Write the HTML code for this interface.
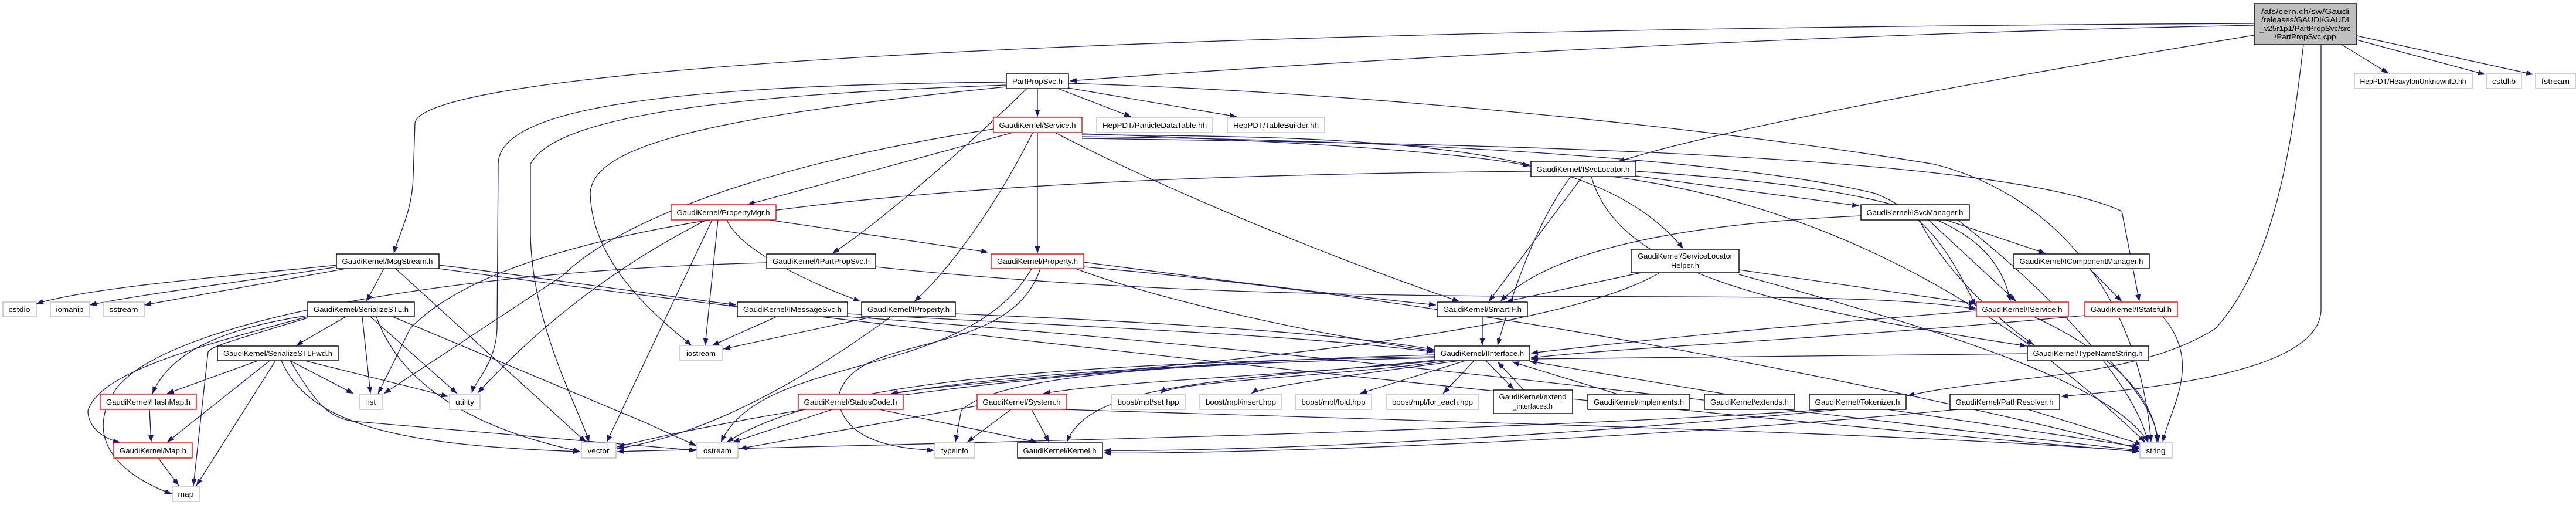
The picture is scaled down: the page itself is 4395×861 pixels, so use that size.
<!DOCTYPE html>
<html><head><meta charset="utf-8"><style>
html,body{margin:0;padding:0;background:#fff}
svg{display:block}
text{font-family:"Liberation Sans",sans-serif;font-size:13px;fill:#000}
.e{fill:none;stroke:#191970;stroke-width:1.3;marker-end:url(#a)}
.b{fill:#fff;stroke:#000;stroke-width:1.4}
.r{fill:#fff;stroke:#ff0000;stroke-width:1.4}
.g{fill:#fff;stroke:#bfbfbf;stroke-width:1.4}
</style></head><body>
<svg width="4395" height="861" viewBox="0 0 4395 861" xmlns="http://www.w3.org/2000/svg">
<defs><marker id="a" markerUnits="userSpaceOnUse" markerWidth="12" markerHeight="9" refX="12" refY="4.5" orient="auto"><path d="M0,0 L12,4.5 L0,9 z" fill="#191970"/></marker></defs>
<g>
<path class="e" d="M3846 60 C3300 150 2900 230 2760 276"/>
<path class="e" d="M3846 43 C3000 60 2200 110 1825 138"/>
<path class="e" d="M3846 40 C1800 50 720 120 708 210 L705 300 C704 360 680 400 672 432"/>
<path class="e" d="M3995 76 L4075 125"/>
<path class="e" d="M4021 68 L4240 127"/>
<path class="e" d="M4021 61 L4322 127"/>
<path class="e" d="M3930 76 C3910 250 3880 450 3780 560 C3640 650 3400 640 3254 675"/>
<path class="e" d="M3960 76 L3960 530 C3955 630 3700 660 3516 676"/>
<path class="e" d="M1770 151 L1770 199"/>
<path class="e" d="M1805 151 L1930 199"/>
<path class="e" d="M1823 150 L2110 199"/>
<path class="e" d="M1752 151 C1650 250 1500 380 1420 432"/>
<path class="e" d="M1717 140 C1100 145 850 190 850 280 L848 560 C846 620 810 650 805 670"/>
<path class="e" d="M1717 145 C1300 160 950 190 905 280 L905 400 C908 560 990 700 1005 754"/>
<path class="e" d="M1717 148 C1200 200 1010 250 1007 330 C1010 450 1120 540 1180 589"/>
<path class="e" d="M1823 142 C2400 160 3000 230 3300 280 C3500 330 3650 500 3670 754"/>
<path class="e" d="M1728 226 L1275 349"/>
<path class="e" d="M1770 226 L1770 432"/>
<path class="e" d="M1762 226 C1700 350 1620 460 1560 514"/>
<path class="e" d="M1846 228 C2200 240 2500 260 2610 283"/>
<path class="e" d="M1800 226 C2000 330 2300 450 2490 514"/>
<path class="e" d="M1846 230 C2400 232 2730 250 2872 424"/>
<path class="e" d="M1846 233 C2500 240 3000 280 3200 330 C3300 370 3340 460 3371 522"/>
<path class="e" d="M1846 236 C2500 245 3400 260 3620 360 L3650 514"/>
<path class="e" d="M1695 220 C1300 280 1050 380 960 470 L655 671"/>
<path class="e" d="M1312 375 L1686 430"/>
<path class="e" d="M1240 375 C1260 420 1350 470 1468 514"/>
<path class="e" d="M1215 375 L1035 754"/>
<path class="e" d="M1225 375 L1203 589"/>
<path class="e" d="M1205 375 C1000 480 880 600 815 670"/>
<path class="e" d="M1849 447 C2100 480 2300 505 2450 520"/>
<path class="e" d="M1835 458 C2000 520 2300 580 2446 598"/>
<path class="e" d="M1760 458 C1650 650 1300 600 1230 754"/>
<path class="e" d="M1775 458 C1720 620 1450 560 1430 680 C1440 760 1550 765 1594 768"/>
<path class="e" d="M1849 455 C2600 520 3400 700 3650 765"/>
<path class="e" d="M1494 455 C2300 540 3100 480 3371 527"/>
<path class="e" d="M575 452 C400 470 150 490 62 518"/>
<path class="e" d="M575 455 C420 480 250 500 153 520"/>
<path class="e" d="M590 458 L246 520"/>
<path class="e" d="M655 458 L625 514"/>
<path class="e" d="M675 458 L1000 754"/>
<path class="e" d="M749 452 C900 470 1100 500 1256 520"/>
<path class="e" d="M749 458 C1500 560 2800 700 3650 770"/>
<path class="e" d="M1308 448 C800 460 300 540 200 660 C130 760 230 820 293 842"/>
<path class="e" d="M590 540 L505 589"/>
<path class="e" d="M525 538 C380 560 290 600 260 671"/>
<path class="e" d="M525 540 C300 600 170 640 150 700 C150 730 180 750 205 754"/>
<path class="e" d="M525 542 C400 580 360 590 355 600 L330 828"/>
<path class="e" d="M618 540 L632 671"/>
<path class="e" d="M632 540 L780 671"/>
<path class="e" d="M642 540 C700 700 900 750 990 770"/>
<path class="e" d="M670 540 L1100 720 L1188 760"/>
<path class="e" d="M440 615 L285 671"/>
<path class="e" d="M460 615 L285 754"/>
<path class="e" d="M470 615 L335 828"/>
<path class="e" d="M495 615 L603 671"/>
<path class="e" d="M520 615 L765 676"/>
<path class="e" d="M480 615 C530 730 700 760 990 770"/>
<path class="e" d="M495 615 C540 690 560 710 600 718 L1188 768"/>
<path class="e" d="M255 698 L258 754"/>
<path class="e" d="M270 781 L305 828"/>
<path class="e" d="M1325 540 L1215 589"/>
<path class="e" d="M1446 535 C1900 560 2200 570 2446 600"/>
<path class="e" d="M1446 540 C2300 600 3200 720 3650 768"/>
<path class="e" d="M1490 540 L1234 595"/>
<path class="e" d="M1630 535 C2000 550 2300 570 2446 596"/>
<path class="e" d="M1520 540 C1300 700 1150 750 1052 765"/>
<path class="e" d="M2791 300 L3172 351"/>
<path class="e" d="M2700 301 L2540 514"/>
<path class="e" d="M2680 301 C2620 380 2580 500 2555 589"/>
<path class="e" d="M2791 292 C3200 320 3400 360 3430 514"/>
<path class="e" d="M2715 301 C2760 460 3000 520 3458 590"/>
<path class="e" d="M2612 292 C1700 300 900 350 700 560 L645 671"/>
<path class="e" d="M2750 301 C3200 360 3500 600 3660 754"/>
<path class="e" d="M3320 375 L3490 432"/>
<path class="e" d="M3290 375 L3440 514"/>
<path class="e" d="M3175 368 C2900 380 2650 420 2560 514"/>
<path class="e" d="M3275 375 C3310 450 3400 540 3470 588"/>
<path class="e" d="M3340 375 C3500 500 3640 650 3665 754"/>
<path class="e" d="M3565 458 L3620 514"/>
<path class="e" d="M2800 465 L2570 514"/>
<path class="e" d="M2832 465 C2600 600 1700 640 1520 671"/>
<path class="e" d="M2967 460 L3371 518"/>
<path class="e" d="M2967 468 C3300 560 3600 650 3665 754"/>
<path class="e" d="M2529 540 L2529 589"/>
<path class="e" d="M3372 530 C3000 560 2800 580 2612 602"/>
<path class="e" d="M3470 540 C3600 600 3680 680 3680 754"/>
<path class="e" d="M3557 538 C3100 580 2800 590 2612 610"/>
<path class="e" d="M3690 540 C3760 620 3700 700 3690 754"/>
<path class="e" d="M3459 603 C3100 605 2800 608 2612 612"/>
<path class="e" d="M3600 615 C3660 680 3680 720 3682 754"/>
<path class="e" d="M2448 610 C2000 620 1700 640 1520 672"/>
<path class="e" d="M2455 615 C2200 640 1900 650 1780 671"/>
<path class="e" d="M2470 615 C2300 640 2000 650 1980 671"/>
<path class="e" d="M2490 615 C2300 640 2150 660 2135 671"/>
<path class="e" d="M2500 615 L2320 671"/>
<path class="e" d="M2515 615 L2462 671"/>
<path class="e" d="M2535 615 L2583 664"/>
<path class="e" d="M2448 614 C2100 650 1860 650 1820 754"/>
<path class="e" d="M2448 608 C1800 620 1400 650 1240 754"/>
<path class="e" d="M2448 610 C2000 620 1700 640 1640 700 L1630 754"/>
<path class="e" d="M2448 605 C1800 620 1300 700 1053 762"/>
<path class="e" d="M2600 665 L2555 617"/>
<path class="e" d="M2760 672 L2580 617"/>
<path class="e" d="M2945 672 L2610 616"/>
<path class="e" d="M1420 698 L1250 754"/>
<path class="e" d="M1500 698 L1770 754"/>
<path class="e" d="M1760 698 L1790 754"/>
<path class="e" d="M1725 698 L1650 754"/>
<path class="e" d="M1812 698 C2500 720 3300 740 3650 770"/>
<path class="e" d="M1667 692 L1262 765"/>
<path class="e" d="M3140 698 C2500 760 2000 770 1883 768"/>
<path class="e" d="M3220 698 L3650 762"/>
<path class="e" d="M3120 698 C2500 740 1400 760 1053 770"/>
<path class="e" d="M3340 698 C2700 760 2000 775 1883 772"/>
<path class="e" d="M3460 698 L3655 758"/>
</g>
<g>
<rect x="3846" y="6" width="175" height="70" fill="#bfbfbf" stroke="#000" stroke-width="1.4"/>
<text x="3933" y="24" text-anchor="middle" textLength="150" lengthAdjust="spacingAndGlyphs">/afs/cern.ch/sw/Gaudi</text>
<text x="3933" y="38" text-anchor="middle" textLength="150" lengthAdjust="spacingAndGlyphs">/releases/GAUDI/GAUDI</text>
<text x="3933" y="53" text-anchor="middle" textLength="155" lengthAdjust="spacingAndGlyphs">_v25r1p1/PartPropSvc/src</text>
<text x="3933" y="67" text-anchor="middle" textLength="105" lengthAdjust="spacingAndGlyphs">/PartPropSvc.cpp</text>

<rect class="g" x="4017" y="125" width="201" height="26"/><text x="4117" y="143" text-anchor="middle" textLength="181" lengthAdjust="spacingAndGlyphs">HepPDT/HeavyIonUnknownID.hh</text>
<rect class="g" x="4242" y="125" width="60" height="26"/><text x="4272" y="143" text-anchor="middle" textLength="40" lengthAdjust="spacingAndGlyphs">cstdlib</text>
<rect class="g" x="4326" y="125" width="68" height="26"/><text x="4360" y="143" text-anchor="middle" textLength="48" lengthAdjust="spacingAndGlyphs">fstream</text>

<rect class="b" x="1717" y="126" width="106" height="25"/><text x="1770" y="143" text-anchor="middle" textLength="86" lengthAdjust="spacingAndGlyphs">PartPropSvc.h</text>
<rect class="r" x="1695" y="200" width="151" height="26"/><text x="1770" y="218" text-anchor="middle" textLength="131" lengthAdjust="spacingAndGlyphs">GaudiKernel/Service.h</text>
<rect class="g" x="1871" y="200" width="198" height="26"/><text x="1970" y="218" text-anchor="middle" textLength="178" lengthAdjust="spacingAndGlyphs">HepPDT/ParticleDataTable.hh</text>
<rect class="g" x="2094" y="200" width="166" height="26"/><text x="2177" y="218" text-anchor="middle" textLength="146" lengthAdjust="spacingAndGlyphs">HepPDT/TableBuilder.hh</text>
<rect class="r" x="1145" y="349" width="179" height="26"/><text x="1234" y="367" text-anchor="middle" textLength="159" lengthAdjust="spacingAndGlyphs">GaudiKernel/PropertyMgr.h</text>
<rect class="b" x="2612" y="275" width="179" height="26"/><text x="2701" y="293" text-anchor="middle" textLength="159" lengthAdjust="spacingAndGlyphs">GaudiKernel/ISvcLocator.h</text>
<rect class="b" x="3175" y="349" width="185" height="26"/><text x="3267" y="367" text-anchor="middle" textLength="165" lengthAdjust="spacingAndGlyphs">GaudiKernel/ISvcManager.h</text>
<rect class="b" x="2783" y="425" width="184" height="40"/><text x="2875" y="441" text-anchor="middle" textLength="162" lengthAdjust="spacingAndGlyphs">GaudiKernel/ServiceLocator</text><text x="2875" y="457" text-anchor="middle" textLength="48" lengthAdjust="spacingAndGlyphs">Helper.h</text>
<rect class="b" x="574" y="433" width="175" height="25"/><text x="661" y="450" text-anchor="middle" textLength="155" lengthAdjust="spacingAndGlyphs">GaudiKernel/MsgStream.h</text>
<rect class="b" x="1308" y="433" width="186" height="25"/><text x="1401" y="450" text-anchor="middle" textLength="166" lengthAdjust="spacingAndGlyphs">GaudiKernel/IPartPropSvc.h</text>
<rect class="r" x="1691" y="433" width="158" height="25"/><text x="1770" y="450" text-anchor="middle" textLength="138" lengthAdjust="spacingAndGlyphs">GaudiKernel/Property.h</text>
<rect class="b" x="3436" y="433" width="231" height="25"/><text x="3551" y="450" text-anchor="middle" textLength="211" lengthAdjust="spacingAndGlyphs">GaudiKernel/IComponentManager.h</text>

<rect class="g" x="5" y="515" width="57" height="25"/><text x="33" y="532" text-anchor="middle" textLength="37" lengthAdjust="spacingAndGlyphs">cstdio</text>
<rect class="g" x="86" y="515" width="67" height="25"/><text x="119" y="532" text-anchor="middle" textLength="47" lengthAdjust="spacingAndGlyphs">iomanip</text>
<rect class="g" x="177" y="515" width="69" height="25"/><text x="211" y="532" text-anchor="middle" textLength="49" lengthAdjust="spacingAndGlyphs">sstream</text>
<rect class="b" x="525" y="515" width="182" height="25"/><text x="616" y="532" text-anchor="middle" textLength="162" lengthAdjust="spacingAndGlyphs">GaudiKernel/SerializeSTL.h</text>
<rect class="b" x="1258" y="515" width="188" height="25"/><text x="1352" y="532" text-anchor="middle" textLength="168" lengthAdjust="spacingAndGlyphs">GaudiKernel/IMessageSvc.h</text>
<rect class="b" x="1470" y="515" width="160" height="25"/><text x="1550" y="532" text-anchor="middle" textLength="140" lengthAdjust="spacingAndGlyphs">GaudiKernel/IProperty.h</text>
<rect class="b" x="2452" y="515" width="154" height="25"/><text x="2529" y="532" text-anchor="middle" textLength="134" lengthAdjust="spacingAndGlyphs">GaudiKernel/SmartIF.h</text>
<rect class="r" x="3372" y="515" width="157" height="25"/><text x="3450" y="532" text-anchor="middle" textLength="137" lengthAdjust="spacingAndGlyphs">GaudiKernel/IService.h</text>
<rect class="r" x="3557" y="515" width="158" height="25"/><text x="3636" y="532" text-anchor="middle" textLength="138" lengthAdjust="spacingAndGlyphs">GaudiKernel/IStateful.h</text>

<rect class="g" x="1160" y="589" width="72" height="26"/><text x="1196" y="607" text-anchor="middle" textLength="50" lengthAdjust="spacingAndGlyphs">iostream</text>
<rect class="b" x="371" y="590" width="206" height="25"/><text x="474" y="607" text-anchor="middle" textLength="186" lengthAdjust="spacingAndGlyphs">GaudiKernel/SerializeSTLFwd.h</text>
<rect class="b" x="2448" y="590" width="162" height="25"/><text x="2529" y="607" text-anchor="middle" textLength="142" lengthAdjust="spacingAndGlyphs">GaudiKernel/IInterface.h</text>
<rect class="b" x="3459" y="590" width="207" height="25"/><text x="3562" y="607" text-anchor="middle" textLength="187" lengthAdjust="spacingAndGlyphs">GaudiKernel/TypeNameString.h</text>

<rect class="r" x="171" y="672" width="164" height="26"/><text x="253" y="690" text-anchor="middle" textLength="144" lengthAdjust="spacingAndGlyphs">GaudiKernel/HashMap.h</text>
<rect class="g" x="614" y="672" width="38" height="26"/><text x="633" y="690" text-anchor="middle" textLength="16" lengthAdjust="spacingAndGlyphs">list</text>
<rect class="g" x="767" y="672" width="52" height="26"/><text x="793" y="690" text-anchor="middle" textLength="32" lengthAdjust="spacingAndGlyphs">utility</text>
<rect class="r" x="1362" y="672" width="179" height="26"/><text x="1451" y="690" text-anchor="middle" textLength="159" lengthAdjust="spacingAndGlyphs">GaudiKernel/StatusCode.h</text>
<rect class="r" x="1667" y="672" width="153" height="26"/><text x="1743" y="690" text-anchor="middle" textLength="133" lengthAdjust="spacingAndGlyphs">GaudiKernel/System.h</text>
<rect class="g" x="1897" y="672" width="125" height="26"/><text x="1959" y="690" text-anchor="middle" textLength="105" lengthAdjust="spacingAndGlyphs">boost/mpl/set.hpp</text>
<rect class="g" x="2047" y="672" width="140" height="26"/><text x="2117" y="690" text-anchor="middle" textLength="120" lengthAdjust="spacingAndGlyphs">boost/mpl/insert.hpp</text>
<rect class="g" x="2211" y="672" width="129" height="26"/><text x="2275" y="690" text-anchor="middle" textLength="109" lengthAdjust="spacingAndGlyphs">boost/mpl/fold.hpp</text>
<rect class="g" x="2365" y="672" width="158" height="26"/><text x="2444" y="690" text-anchor="middle" textLength="138" lengthAdjust="spacingAndGlyphs">boost/mpl/for_each.hpp</text>
<rect class="b" x="2548" y="665" width="135" height="40"/><text x="2615" y="681" text-anchor="middle" textLength="115" lengthAdjust="spacingAndGlyphs">GaudiKernel/extend</text><text x="2615" y="697" text-anchor="middle" textLength="68" lengthAdjust="spacingAndGlyphs">_interfaces.h</text>
<rect class="b" x="2709" y="672" width="174" height="26"/><text x="2796" y="690" text-anchor="middle" textLength="154" lengthAdjust="spacingAndGlyphs">GaudiKernel/implements.h</text>
<rect class="b" x="2908" y="672" width="154" height="26"/><text x="2985" y="690" text-anchor="middle" textLength="134" lengthAdjust="spacingAndGlyphs">GaudiKernel/extends.h</text>
<rect class="b" x="3087" y="672" width="165" height="26"/><text x="3169" y="690" text-anchor="middle" textLength="145" lengthAdjust="spacingAndGlyphs">GaudiKernel/Tokenizer.h</text>
<rect class="b" x="3327" y="672" width="187" height="26"/><text x="3420" y="690" text-anchor="middle" textLength="167" lengthAdjust="spacingAndGlyphs">GaudiKernel/PathResolver.h</text>

<rect class="r" x="194" y="755" width="134" height="26"/><text x="261" y="773" text-anchor="middle" textLength="114" lengthAdjust="spacingAndGlyphs">GaudiKernel/Map.h</text>
<rect class="g" x="992" y="755" width="59" height="26"/><text x="1021" y="773" text-anchor="middle" textLength="37" lengthAdjust="spacingAndGlyphs">vector</text>
<rect class="g" x="1189" y="755" width="70" height="26"/><text x="1224" y="773" text-anchor="middle" textLength="48" lengthAdjust="spacingAndGlyphs">ostream</text>
<rect class="g" x="1595" y="755" width="68" height="26"/><text x="1629" y="773" text-anchor="middle" textLength="46" lengthAdjust="spacingAndGlyphs">typeinfo</text>
<rect class="b" x="1736" y="755" width="145" height="26"/><text x="1808" y="773" text-anchor="middle" textLength="125" lengthAdjust="spacingAndGlyphs">GaudiKernel/Kernel.h</text>
<rect class="g" x="3651" y="755" width="55" height="26"/><text x="3678" y="773" text-anchor="middle" textLength="33" lengthAdjust="spacingAndGlyphs">string</text>
<rect class="g" x="294" y="829" width="47" height="26"/><text x="317" y="847" text-anchor="middle" textLength="27" lengthAdjust="spacingAndGlyphs">map</text>
</g>
</svg>
</body></html>
